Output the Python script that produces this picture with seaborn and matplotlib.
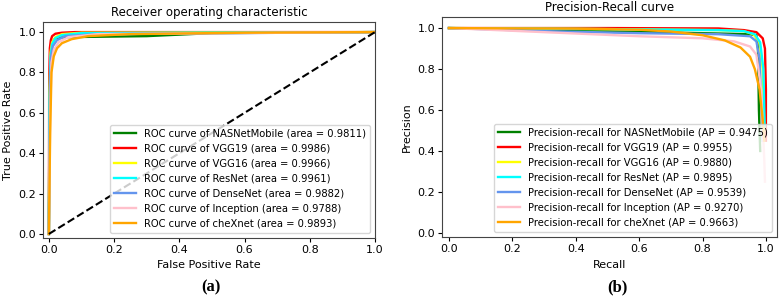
import matplotlib
matplotlib.use("Agg")
import matplotlib.pyplot as plt
import seaborn as sns
import numpy as np

# ---------------- data ----------------
models = ["NASNetMobile", "VGG19", "VGG16", "ResNet", "DenseNet", "Inception", "cheXnet"]
colors = ["green", "red", "yellow", "aqua", "cornflowerblue", "pink", "orange"]
roc_auc = ["0.9811", "0.9986", "0.9966", "0.9961", "0.9882", "0.9788", "0.9893"]
ap = ["0.9475", "0.9955", "0.9880", "0.9895", "0.9539", "0.9270", "0.9663"]

fpr_nasnet = [0, 0.002, 0.005, 0.01, 0.02, 0.05, 0.3, 0.5, 1.0]
tpr_nasnet = [0, 0.70, 0.90, 0.95, 0.97, 0.975, 0.98, 0.995, 1.0]
fpr_vgg19 = [0, 0.001, 0.003, 0.006, 0.01, 0.02, 0.04, 0.08, 1.0]
tpr_vgg19 = [0, 0.75, 0.92, 0.96, 0.98, 0.992, 0.997, 1.0, 1.0]
fpr_vgg16 = [0, 0.002, 0.005, 0.01, 0.02, 0.04, 0.1, 1.0]
tpr_vgg16 = [0, 0.70, 0.90, 0.95, 0.975, 0.99, 0.997, 1.0]
fpr_resnet = [0, 0.002, 0.005, 0.01, 0.02, 0.04, 0.1, 1.0]
tpr_resnet = [0, 0.65, 0.88, 0.94, 0.97, 0.985, 0.995, 1.0]
fpr_densenet = [0, 0.003, 0.006, 0.012, 0.025, 0.05, 0.15, 1.0]
tpr_densenet = [0, 0.65, 0.87, 0.93, 0.96, 0.98, 0.99, 1.0]
fpr_inception = [0, 0.004, 0.008, 0.015, 0.03, 0.06, 0.15, 1.0]
tpr_inception = [0, 0.60, 0.85, 0.91, 0.95, 0.975, 0.99, 1.0]
fpr_chexnet = [0, 0.004, 0.008, 0.015, 0.025, 0.04, 0.07, 0.12, 0.25, 0.6, 1.0]
tpr_chexnet = [0, 0.50, 0.80, 0.88, 0.92, 0.945, 0.965, 0.98, 0.99, 0.997, 1.0]

rec_nasnet = [0, 0.2, 0.5, 0.8, 0.95, 0.97, 0.975, 0.978, 0.982]
prec_nasnet = [1.0, 0.995, 0.985, 0.975, 0.97, 0.965, 0.90, 0.60, 0.40]
rec_vgg19 = [0, 0.5, 0.85, 0.93, 0.97, 0.99, 0.997, 1.0, 1.0]
prec_vgg19 = [1.0, 1.0, 0.998, 0.99, 0.98, 0.95, 0.90, 0.70, 0.45]
rec_vgg16 = [0, 0.5, 0.85, 0.93, 0.96, 0.98, 0.99, 0.995]
prec_vgg16 = [1.0, 0.995, 0.99, 0.985, 0.97, 0.93, 0.80, 0.50]
rec_resnet = [0, 0.5, 0.85, 0.93, 0.965, 0.982, 0.992, 0.996]
prec_resnet = [1.0, 0.995, 0.99, 0.985, 0.97, 0.93, 0.80, 0.52]
rec_densenet = [0, 0.3, 0.6, 0.85, 0.95, 0.97, 0.98, 0.99]
prec_densenet = [1.0, 0.985, 0.975, 0.97, 0.96, 0.935, 0.85, 0.45]
rec_inception = [0, 0.3, 0.6, 0.8, 0.9, 0.95, 0.97, 0.985, 0.995, 0.997]
prec_inception = [1.0, 0.98, 0.96, 0.95, 0.935, 0.91, 0.87, 0.70, 0.35, 0.25]
rec_chexnet = [0, 0.4, 0.6, 0.7, 0.8, 0.87, 0.92, 0.95, 0.965, 0.98, 0.99, 0.995]
prec_chexnet = [1.0, 0.997, 0.992, 0.983, 0.965, 0.94, 0.905, 0.86, 0.80, 0.70, 0.55, 0.45]

roc_data = [(fpr_nasnet, tpr_nasnet), (fpr_vgg19, tpr_vgg19), (fpr_vgg16, tpr_vgg16),
            (fpr_resnet, tpr_resnet), (fpr_densenet, tpr_densenet),
            (fpr_inception, tpr_inception), (fpr_chexnet, tpr_chexnet)]
pr_data = [(rec_nasnet, prec_nasnet), (rec_vgg19, prec_vgg19), (rec_vgg16, prec_vgg16),
           (rec_resnet, prec_resnet), (rec_densenet, prec_densenet),
           (rec_inception, prec_inception), (rec_chexnet, prec_chexnet)]

# ---------------- figure ----------------
plt.rcParams["font.family"] = ["DejaVu Sans"]
fig = plt.figure(figsize=(7.83, 2.96), dpi=100)
W, H = 783, 296
ax1 = fig.add_axes([43 / W, 1 - 238 / H, (375 - 43) / W, (238 - 22) / H])
ax2 = fig.add_axes([442 / W, 1 - 237 / H, (777 - 442) / W, (237 - 17) / H])

LW = 1.7
for (x, y), m, c, a in zip(roc_data, models, colors, roc_auc):
    sns.lineplot(x=x, y=y, ax=ax1, color=c, lw=LW, sort=False, estimator=None,
                 label=f"ROC curve of {m} (area = {a})")
ax1.plot([0, 1], [0, 1], "k--", lw=1.5)
ax1.set_xlim(-0.018, 1.0)
ax1.set_ylim(-0.02, 1.05)
ax1.set_title("Receiver operating characteristic", fontsize=8.5, pad=4)
ax1.set_xlabel("False Positive Rate", fontsize=8)
ax1.set_ylabel("True Positive Rate", fontsize=8)
ax1.tick_params(labelsize=8, length=3, pad=2)
ax1.legend(loc="lower right", fontsize=7.2, handlelength=2.2, labelspacing=0.5,
           borderpad=0.42, frameon=True)

for (x, y), m, c, a in zip(pr_data, models, colors, ap):
    sns.lineplot(x=x, y=y, ax=ax2, color=c, lw=LW, sort=False, estimator=None,
                 label=f"Precision-recall for {m} (AP = {a})")
ax2.set_xlim(-0.022, 1.035)
ax2.set_ylim(-0.02, 1.054)
ax2.set_title("Precision-Recall curve", fontsize=8.5, pad=4)
ax2.set_xlabel("Recall", fontsize=8)
ax2.set_ylabel("Precision", fontsize=8)
ax2.tick_params(labelsize=8, length=3, pad=2)
ax2.legend(loc="lower right", fontsize=7.2, handlelength=2.2, labelspacing=0.5,
           borderpad=0.42, frameon=True)

for ax in (ax1, ax2):
    ax.set_xticks([0, 0.2, 0.4, 0.6, 0.8, 1.0])
    ax.set_yticks([0, 0.2, 0.4, 0.6, 0.8, 1.0])
    for s in ax.spines.values():
        s.set_color("#444444")

fig.text(211 / W, 1 - 287 / H, "(a)", fontsize=12, fontweight="bold",
         family="Liberation Serif", ha="center", va="center")
fig.text(617 / W, 1 - 287 / H, "(b)", fontsize=12, fontweight="bold",
         family="Liberation Serif", ha="center", va="center")

fig.savefig("out.png", dpi=100)
